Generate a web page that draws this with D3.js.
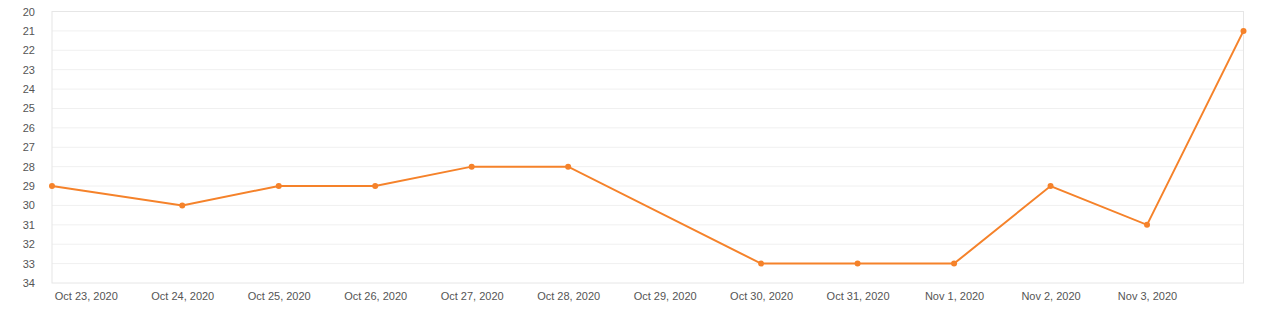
<!DOCTYPE html>
<html><head><meta charset="utf-8">
<script src="https://cdn.jsdelivr.net/npm/d3@7"></script>
<style>body{margin:0;background:#fff;font-family:"Liberation Sans",Arial,sans-serif}</style>
</head><body><svg id="c" width="1266" height="312"></svg>
<script>
const dates = ["2020-10-22T15:36","2020-10-24T00:00","2020-10-25T00:00","2020-10-26T00:00","2020-10-27T00:00","2020-10-28T00:00","2020-10-30T00:00","2020-10-31T00:00","2020-11-01T00:00","2020-11-02T00:00","2020-11-03T00:00","2020-11-04T00:00"];
const values = [29,30,29,29,28,28,33,33,33,29,31,21];
const yTicks = d3.range(20,35);
const xTickDates = ["2020-10-23","2020-10-24","2020-10-25","2020-10-26","2020-10-27","2020-10-28","2020-10-29","2020-10-30","2020-10-31","2020-11-01","2020-11-02","2020-11-03"];

const parse = d3.timeParse("%Y-%m-%dT%H:%M");
const parseD = d3.timeParse("%Y-%m-%d");
const data = dates.map((d,i)=>({t:parse(d), v:values[i]}));
const svg = d3.select("#c");
const L=52, R=1243.5, T=11.5, B=283;
const x = d3.scaleTime().domain(d3.extent(data,d=>d.t)).range([L,R]);
const y = d3.scaleLinear().domain([20,34]).range([T,B]);

// grid
svg.append("g").selectAll("line").data(yTicks.filter(v=>v>20&&v<34)).join("line")
  .attr("x1",L).attr("x2",R).attr("y1",d=>y(d)).attr("y2",d=>y(d))
  .attr("stroke","#f0f0f0").attr("stroke-width",1);
svg.append("rect").attr("x",L).attr("y",T).attr("width",R-L).attr("height",B-T)
  .attr("fill","none").attr("stroke","#e6e6e6").attr("stroke-width",1);

// y axis
const ya = svg.append("g").attr("transform",`translate(${L},0)`)
  .call(d3.axisLeft(y).tickValues(yTicks).tickSize(0).tickPadding(17).tickFormat(d3.format("d")));
ya.select(".domain").remove();
ya.selectAll("text").attr("fill","#555").style("font-size","11px").style("font-family","Liberation Sans, Arial, sans-serif");

// x axis
const fmt = d3.timeFormat("%b %-d, %Y");
const xa = svg.append("g").attr("transform",`translate(0,${B})`)
  .call(d3.axisBottom(x).tickValues(xTickDates.map(parseD)).tickSize(0).tickPadding(9).tickFormat(fmt));
xa.select(".domain").remove();
xa.selectAll("text").attr("fill","#555").style("font-size","11px").style("font-family","Liberation Sans, Arial, sans-serif");

const color="#f5822a";
svg.append("path").datum(data)
  .attr("d", d3.line().x(d=>x(d.t)).y(d=>y(d.v)))
  .attr("fill","none").attr("stroke",color).attr("stroke-width",2);
svg.append("g").selectAll("circle").data(data).join("circle")
  .attr("cx",d=>x(d.t)).attr("cy",d=>y(d.v)).attr("r",3).attr("fill",color);
</script></body></html>
